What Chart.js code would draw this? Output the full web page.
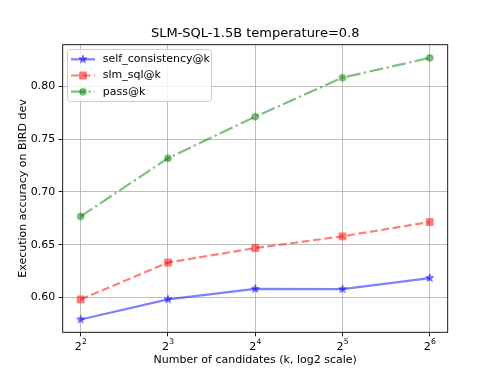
<!DOCTYPE html>
<html><head><meta charset="utf-8">
<script src="https://cdn.jsdelivr.net/npm/chart.js@4.4.1/dist/chart.umd.min.js"></script>
<style>html,body{margin:0;padding:0;background:#fff}canvas{display:block}</style>
</head><body>
<canvas id="c" width="498" height="374"></canvas>
<script>
// ---- data ----
const exponents = [2, 3, 4, 5, 6];               // k = 2^exponent
const xTickBase = '2';
const xTickExp = ['2', '3', '4', '5', '6'];
const selfConsistency = [0.5790, 0.5980, 0.6080, 0.6077, 0.6183];
const slmSql = [0.5980, 0.6330, 0.6468, 0.6579, 0.6715];
const passAtK = [0.6768, 0.7320, 0.7715, 0.8085, 0.8273];
const yTicks = [0.60, 0.65, 0.70, 0.75, 0.80];
const seriesNames = ['self_consistency@k', 'slm_sql@k', 'pass@k'];
const chartTitle = 'SLM-SQL-1.5B temperature=0.8';
const xTitle = 'Number of candidates (k, log2 scale)';
const yTitle = 'Execution accuracy on BIRD dev';

const FONT = '"DejaVu Sans", sans-serif';
const colors = ['rgba(0,0,255,0.5)', 'rgba(255,0,0,0.5)', 'rgba(0,128,0,0.5)'];
const dashes = [[], [8, 3.5], [14, 3.5, 2.2, 3.5]];
const kinds = ['star', 'square', 'circle'];

function drawMarkerPath(ctx, kind, cx, cy) {
  ctx.beginPath();
  if (kind === 'star') {
    const R = 4.2, r = R * 0.382;
    for (let i = 0; i < 10; i++) {
      const rad = i % 2 === 0 ? R : r;
      const a = -Math.PI / 2 + i * Math.PI / 5;
      const px = cx + rad * Math.cos(a), py = cy + rad * Math.sin(a);
      if (i === 0) ctx.moveTo(px, py); else ctx.lineTo(px, py);
    }
    ctx.closePath();
  } else if (kind === 'square') {
    ctx.rect(cx - 3.3, cy - 3.3, 6.6, 6.6);
  } else {
    ctx.arc(cx, cy, 3.3, 0, Math.PI * 2);
  }
}
function makeMarker(kind, color) {
  const c = document.createElement('canvas');
  c.width = 14; c.height = 14;
  const g = c.getContext('2d');
  drawMarkerPath(g, kind, 7, 7);
  g.fillStyle = color; g.fill();
  g.lineWidth = 1; g.strokeStyle = color; g.stroke();
  return c;
}
const markers = kinds.map((k, i) => makeMarker(k, colors[i]));

const seriesValues = [selfConsistency, slmSql, passAtK];
const datasets = seriesValues.map((vals, i) => ({
  label: seriesNames[i],
  data: exponents.map((e, j) => ({ x: e, y: vals[j] })),
  borderColor: colors[i],
  backgroundColor: colors[i],
  borderWidth: 2.2,
  borderDash: dashes[i],
  pointStyle: markers[i],
  pointRadius: 5,
  pointHoverRadius: 5,
  tension: 0,
  fill: false
}));

const framePlugin = {
  id: 'frameAndLegend',
  afterDatasetsDraw(chart) {
    const { ctx, chartArea: a } = chart;
    ctx.save();
    // title centred over the axes
    ctx.fillStyle = '#000';
    ctx.font = '13px ' + FONT;
    ctx.textAlign = 'center';
    ctx.textBaseline = 'middle';
    ctx.fillText(chartTitle, (a.left + a.right) / 2, 33.3);
    // x tick labels with superscript exponent
    const xs = chart.scales.x;
    exponents.forEach((e, i) => {
      const px = xs.getPixelForValue(e);
      ctx.font = '11px ' + FONT;
      const wb = ctx.measureText(xTickBase).width;
      ctx.font = '7.7px ' + FONT;
      const we = ctx.measureText(xTickExp[i]).width;
      const x0 = px - (wb + we) / 2;
      ctx.textAlign = 'left';
      ctx.textBaseline = 'alphabetic';
      ctx.font = '11px ' + FONT;
      ctx.fillText(xTickBase, x0, 350.3);
      ctx.font = '7.7px ' + FONT;
      ctx.fillText(xTickExp[i], x0 + wb + 0.3, 343.6);
    });
    // frame
    ctx.strokeStyle = '#000';
    ctx.lineWidth = 0.9;
    ctx.strokeRect(a.left, a.top, a.right - a.left, a.bottom - a.top);
    // legend box
    const bx = 67.5, by = 49.5, bw = 144, bh = 52, rr = 3;
    ctx.beginPath();
    ctx.moveTo(bx + rr, by);
    ctx.arcTo(bx + bw, by, bx + bw, by + bh, rr);
    ctx.arcTo(bx + bw, by + bh, bx, by + bh, rr);
    ctx.arcTo(bx, by + bh, bx, by, rr);
    ctx.arcTo(bx, by, bx + bw, by, rr);
    ctx.closePath();
    ctx.fillStyle = 'rgba(255,255,255,0.8)';
    ctx.fill();
    ctx.strokeStyle = '#cccccc';
    ctx.lineWidth = 1;
    ctx.stroke();
    const rows = [59.3, 75.5, 91.7];
    chart.data.datasets.forEach((ds, i) => {
      const y = rows[i];
      ctx.save();
      ctx.setLineDash(dashes[i]);
      ctx.strokeStyle = colors[i];
      ctx.lineWidth = 2.2;
      ctx.beginPath(); ctx.moveTo(71, y); ctx.lineTo(95, y); ctx.stroke();
      ctx.restore();
      ctx.drawImage(markers[i], 83 - 7, y - 7);
      ctx.fillStyle = '#000';
      ctx.font = '11px ' + FONT;
      ctx.textBaseline = 'middle';
      ctx.textAlign = 'left';
      ctx.fillText(ds.label, 102.7, y);
    });
    ctx.restore();
  }
};

new Chart(document.getElementById('c'), {
  type: 'line',
  data: { datasets },
  plugins: [framePlugin],
  options: {
    responsive: false,
    animation: false,
    devicePixelRatio: 1,
    layout: { padding: { top: 44.7, right: 50.3, bottom: 0, left: 0 } },
    plugins: {
      legend: { display: false },
      tooltip: { enabled: false },
      title: { display: false }
    },
    scales: {
      x: {
        type: 'linear', min: 1.794, max: 6.206,
        afterBuildTicks(s) { s.ticks = exponents.map(v => ({ value: v })); },
        afterFit(s) { s.height = 41.7; },
        ticks: {
          color: '#000', font: { family: FONT, size: 11 }, padding: 2.5,
          maxRotation: 0, autoSkip: false,
          callback: () => ''
        },
        grid: { color: '#b0b0b0', lineWidth: 0.8, drawTicks: true, tickLength: 4, tickColor: '#000', tickWidth: 0.9 },
        border: { display: false },
        title: { display: true, text: xTitle, color: '#000', font: { family: FONT, size: 11 }, padding: { top: 0, bottom: 7.4 } }
      },
      y: {
        type: 'linear', min: 0.5668, max: 0.8398,
        afterBuildTicks(s) { s.ticks = yTicks.map(v => ({ value: v })); },
        afterFit(s) { s.width = 62.7; },
        ticks: {
          color: '#000', font: { family: FONT, size: 11 }, padding: 3.5,
          callback: (v) => v.toFixed(2)
        },
        grid: { color: '#b0b0b0', lineWidth: 0.8, drawTicks: true, tickLength: 4, tickColor: '#000', tickWidth: 0.9 },
        border: { display: false },
        title: { display: true, text: yTitle, color: '#000', font: { family: FONT, size: 11 }, padding: { top: 16.4, bottom: 0 } }
      }
    }
  }
});
</script>
</body></html>
